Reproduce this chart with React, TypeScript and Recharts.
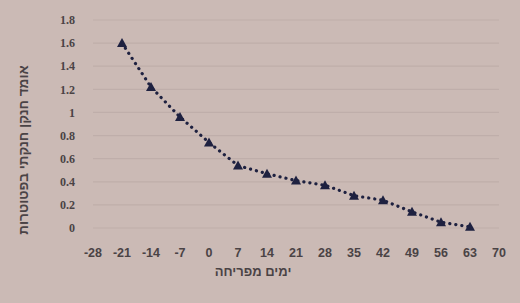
import React from 'react';
import { LineChart, Line, XAxis, YAxis, CartesianGrid } from 'recharts';

const days = [-21, -14, -7, 0, 7, 14, 21, 28, 35, 42, 49, 56, 63];
const nitrate = [1.6, 1.22, 0.96, 0.74, 0.54, 0.47, 0.41, 0.37, 0.28, 0.24, 0.14, 0.05, 0.01];
const xTicks = [-28, -21, -14, -7, 0, 7, 14, 21, 28, 35, 42, 49, 56, 63, 70];
const yTicks = [0, 0.2, 0.4, 0.6, 0.8, 1, 1.2, 1.4, 1.6, 1.8];
const xTitle = 'ימים מפריחה';
const yTitle = 'אומד חנקן חנקתי בפטוטרות';

const data = days.map((d, i) => ({ day: d, value: nitrate[i] }));

const Triangle = (props: any) => {
  const { cx, cy, index } = props;
  if (cx == null || cy == null) return null;
  const s = 5;
  return (
    <polygon
      key={index}
      points={`${cx},${cy - s} ${cx - s},${cy + s * 0.8} ${cx + s},${cy + s * 0.8}`}
      fill="#1e2140"
    />
  );
};

const textColor = '#4a4345';

export default function App() {
  return (
    <div style={{ position: 'fixed', left: 0, top: 0, width: 520, height: 303, background: '#cbbab5' }}>
      <LineChart width={520} height={303} data={data} margin={{ top: 20, right: 21, bottom: 20, left: 0 }}>
        <CartesianGrid horizontal vertical={false} stroke="#bfaeaa" strokeWidth={1.2} />
        <XAxis
          dataKey="day"
          type="number"
          domain={[-28, 70]}
          ticks={xTicks}
          interval={0}
          axisLine={false}
          tickLine={false}
          height={55}
          tick={{ fill: textColor, fontSize: 12.5, fontWeight: 600, fontFamily: 'Liberation Sans' }}
          tickMargin={14}
          label={{
            content: (p: any) => {
              const vb = p.viewBox;
              return (
                <text x={vb.x + vb.width / 2 - 43} y={vb.y + 48} textAnchor="middle" fill={textColor} fontSize={13} fontFamily="Liberation Sans" fontWeight={600}>
                  {xTitle}
                </text>
              );
            },
          }}
        />
        <YAxis
          type="number"
          domain={[0, 1.8]}
          ticks={yTicks}
          interval={0}
          axisLine={false}
          tickLine={false}
          width={93}
          tickMargin={12}
          tickFormatter={(v: number) => String(v)}
          tick={{ fill: textColor, fontSize: 12, fontWeight: 600, fontFamily: 'Liberation Serif' }}
          label={{
            content: (p: any) => {
              const vb = p.viewBox;
              const x = vb.x + 24;
              const y = vb.y + vb.height / 2 + 26;
              return (
                <text x={x} y={y} transform={`rotate(-90 ${x} ${y})`} textAnchor="middle" dominantBaseline="middle" fill={textColor} fontSize={13.5} fontFamily="Liberation Sans" fontWeight={600}>
                  {yTitle}
                </text>
              );
            },
          }}
        />
        <Line
          type="linear"
          dataKey="value"
          stroke="#1e2140"
          strokeWidth={3.2}
          strokeDasharray="0.1 6"
          strokeLinecap="round"
          dot={<Triangle />}
          activeDot={false}
          isAnimationActive={false}
        />
      </LineChart>
    </div>
  );
}
